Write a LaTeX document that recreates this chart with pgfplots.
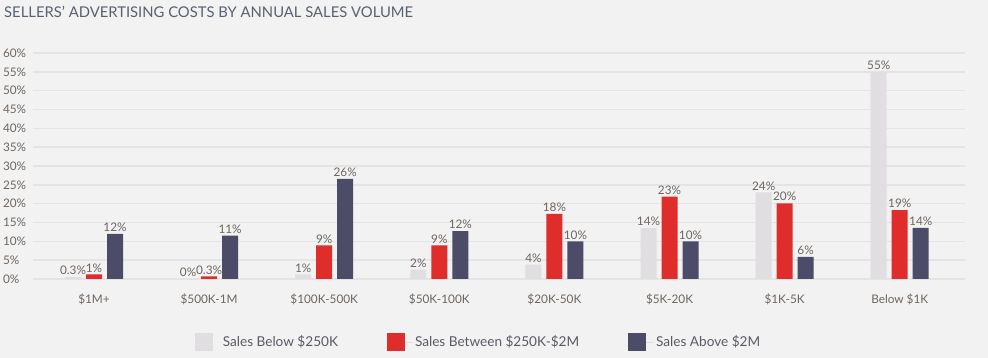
\documentclass[border=0pt]{standalone}
\usepackage{pgfplots}
\pgfplotsset{compat=1.18}
\usepackage{pgfplotstable}
\usepackage{fontspec}
\setmainfont{Lato}
\definecolor{bg}{HTML}{F2F2F2}
\definecolor{gridc}{HTML}{E4E4E4}
\definecolor{cgray}{HTML}{E0DEE0}
\definecolor{cred}{HTML}{DE2D2B}
\definecolor{cdark}{HTML}{4D4C68}
\definecolor{txt}{HTML}{6E665F}
\definecolor{titlec}{HTML}{596070}
\definecolor{legc}{HTML}{5A5A66}

\pgfplotstableread{
x y lab
0 0.5 0.3
1 0 0
2 1.2 1
3 2.5 2
4 3.8 4
5 13.6 14
6 23.0 24
7 55 55
}\tgray
\pgfplotstableread{
x y lab
0 1.2 1
1 0.7 0.3
2 8.9 9
3 8.9 9
4 17.3 18
5 21.9 23
6 20.1 20
7 18.3 19
}\tred
\pgfplotstableread{
x y lab
0 12.0 12
1 11.5 11
2 26.6 26
3 12.7 12
4 10.0 10
5 10.0 10
6 5.9 6
7 13.6 14
}\tdark

\begin{document}
\begin{tikzpicture}
\path[use as bounding box, fill=bg] (0pt,0pt) rectangle (988pt,358pt);
\node[anchor=base west, font=\fontsize{14.8}{17}\selectfont, text=titlec, inner sep=0pt] at (4pt,340pt) {SELLERS’ ADVERTISING COSTS BY ANNUAL SALES VOLUME};
\begin{axis}[
  at={(33pt,79pt)}, anchor=south west,
  scale only axis, width=932pt, height=226pt,
  xmin=-0.53, xmax=7.567, ymin=0, ymax=60,
  ytick={0,5,...,60},
  yticklabel={\pgfmathprintnumber{\tick}\%},
  /pgf/number format/assume math mode=true,
  yticklabel style={anchor=west, xshift=-33.5pt, font=\fontsize{11.8}{13}\selectfont, text=txt},
  xtick={0,...,7},
  xticklabels={\$1M+,\$500K-1M,\$100K-500K,\$50K-100K,\$20K-50K,\$5K-20K,\$1K-5K,Below \$1K},
  xticklabel style={font=\fontsize{11.8}{13}\selectfont, text=txt, yshift=-11pt},
  axis line style={draw=none},
  major tick length=0pt,
  ymajorgrids, grid style={draw=gridc, line width=1.5pt},
  ybar=5pt, bar width=16pt,
  clip=false,
  point meta=explicit symbolic,
  nodes near coords={\pgfplotspointmeta\%},
  nodes near coords style={font=\fontsize{11.8}{13}\selectfont, text=txt, inner sep=2pt},
  legend style={at={(0.478,-0.279)}, anchor=center, draw=none, fill=none,
    legend columns=3, font=\fontsize{13.6}{15}\selectfont, text=legc,
    /tikz/every even column/.append style={column sep=47pt}},
  legend cell align=left,
  legend image code/.code={\fill[#1] (0pt,-9pt) rectangle (18pt,9pt); \path (0pt,0pt) -- (26pt,0pt);},
]
\addplot[fill=cgray, draw=none] table[x=x, y=y, meta=lab] {\tgray};
\addplot[fill=cred, draw=none] table[x=x, y=y, meta=lab] {\tred};
\addplot[fill=cdark, draw=none] table[x=x, y=y, meta=lab] {\tdark};
\legend{Sales Below \$250K, Sales Between \$250K-\$2M, Sales Above \$2M}
\end{axis}
\end{tikzpicture}
\end{document}
